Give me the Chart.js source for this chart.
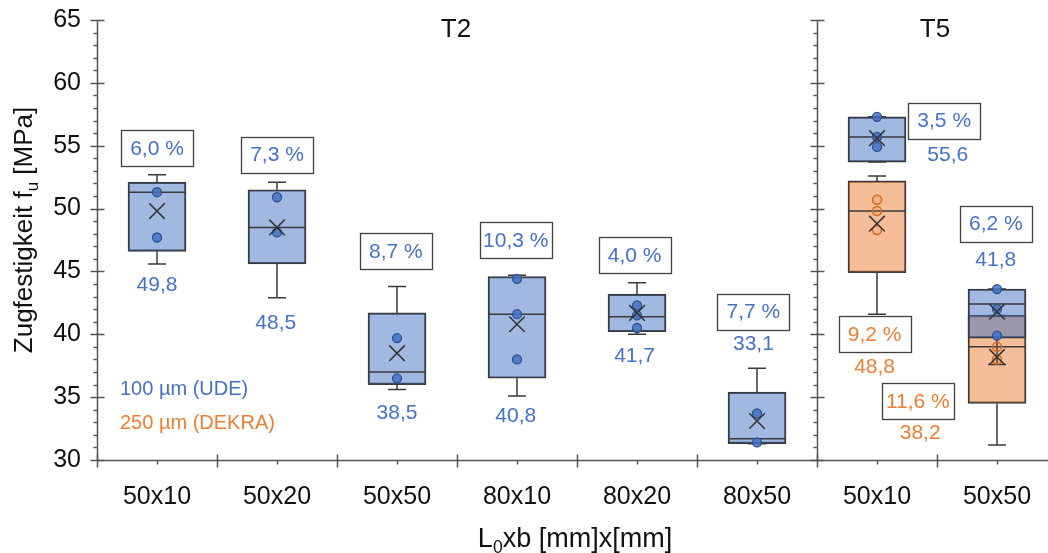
<!DOCTYPE html>
<html>
<head>
<meta charset="utf-8">
<script src="https://cdn.jsdelivr.net/npm/chart.js@4"></script>
<style>
  html, body { margin: 0; padding: 0; background: #fff; }
  #wrap { width: 1048px; height: 553px; }
</style>
</head>
<body>
<div id="wrap"><canvas id="chart" width="1048" height="553"></canvas></div>
<script>
// ---- data ----
const categories = ['50x10', '50x20', '50x50', '80x10', '80x20', '80x50', '50x10', '50x50'];

// 100 µm (UDE), all 8 geometries
const udeMin    = [45.6, 42.9, 35.6, 35.1, 40.0, 31.3, 53.7, 37.6];
const udeQ1     = [46.6, 45.6, 36.0, 36.5, 40.2, 31.3, 53.7, 39.7];
const udeMedian = [51.3, 48.5, 37.0, 41.6, 41.4, 31.7, 55.7, 42.4];
const udeQ3     = [52.1, 51.5, 41.7, 44.6, 43.2, 35.4, 57.3, 43.6];
const udeMax    = [52.7, 52.1, 43.8, 44.7, 44.1, 37.3, 57.3, 43.6];
const udeMean   = [49.8, 48.5, 38.5, 40.8, 41.7, 33.1, 55.6, 41.8];
const udeCv     = [6.0, 7.3, 8.7, 10.3, 4.0, 7.7, 3.5, 6.2];
const udePoints = [
  [51.3, 47.7], [50.9, 48.1], [39.7, 36.5], [44.4, 41.6, 38.0],
  [42.3, 41.5, 40.5], [33.7, 31.4], [57.3, 55.7, 54.9], [43.6, 42.0, 39.9]
];

// 250 µm (DEKRA), only T5
const dekraCat    = [6, 7];
const dekraMin    = [41.6, 31.2];
const dekraQ1     = [44.9, 34.5];
const dekraMedian = [49.8, 39.0];
const dekraQ3     = [52.2, 41.5];
const dekraMax    = [52.6, 41.5];
const dekraMean   = [48.8, 38.2];
const dekraCv     = [9.2, 11.6];
const dekraPoints = [[50.7, 49.8, 48.3], [39.0, 38.0]];

const yTicks = [30, 35, 40, 45, 50, 55, 60, 65];

// label placement (axis units)
const udeLabelPos = [
  { cx: 0.00, cy: 54.8, mx: 0.00, my: 44.0 },
  { cx: 1.00, cy: 54.3, mx: 0.99, my: 41.0 },
  { cx: 1.99, cy: 46.6, mx: 2.00, my: 33.8 },
  { cx: 2.99, cy: 47.5, mx: 2.99, my: 33.6 },
  { cx: 3.98, cy: 46.3, mx: 3.98, my: 38.3 },
  { cx: 4.97, cy: 41.8, mx: 4.97, my: 39.3 },
  { cx: 6.56, cy: 57.0, mx: 6.59, my: 54.3 },
  { cx: 6.99, cy: 48.8, mx: 6.99, my: 46.0 }
];
const dekraLabelPos = [
  { cx: 5.98, cy: 40.0, mx: 5.98, my: 37.5 },
  { cx: 6.34, cy: 34.7, mx: 6.36, my: 32.2 }
];

const X_MIN = -0.5;
const X_MAX = 7.425;

const BLUE = '#4472c4';
const ORANGE = '#ed7d31';
const FONT = "'Liberation Sans', Arial, sans-serif";

function fmt(v) {
  return v.toFixed(1).replace('.', ',');
}

// ---- datasets ----
const udeStats = categories.map((c, i) => ({
  x: i, min: udeMin[i], q1: udeQ1[i], med: udeMedian[i], q3: udeQ3[i], max: udeMax[i]
}));
const dekraStats = dekraCat.map((c, i) => ({
  x: c, min: dekraMin[i], q1: dekraQ1[i], med: dekraMedian[i], q3: dekraQ3[i], max: dekraMax[i]
}));

const udePointData = [];
udePoints.forEach((list, i) => list.forEach(v => udePointData.push({ x: i, y: v })));
const dekraPointData = [];
dekraPoints.forEach((list, i) => list.forEach(v => dekraPointData.push({ x: dekraCat[i], y: v })));

// whiskers and medians, drawn right after each box dataset
const boxExtras = {
  id: 'boxExtras',
  afterDatasetDraw(chart, args) {
    const ds = chart.data.datasets[args.index];
    if (!ds.stats) return;
    const xs = chart.scales.x, ys = chart.scales.y, ctx = chart.ctx;
    const meta = chart.getDatasetMeta(args.index);
    ctx.save();
    ctx.strokeStyle = '#3a3a3a';
    ctx.lineWidth = 1.5;
    ds.stats.forEach((s, i) => {
      const px = xs.getPixelForValue(s.x);
      const half = meta.data[i].width / 2;
      const cap = 9;
      ctx.beginPath();
      // upper whisker
      ctx.moveTo(px, ys.getPixelForValue(s.q3));
      ctx.lineTo(px, ys.getPixelForValue(s.max));
      ctx.moveTo(px - cap, ys.getPixelForValue(s.max));
      ctx.lineTo(px + cap, ys.getPixelForValue(s.max));
      // lower whisker
      ctx.moveTo(px, ys.getPixelForValue(s.q1));
      ctx.lineTo(px, ys.getPixelForValue(s.min));
      ctx.moveTo(px - cap, ys.getPixelForValue(s.min));
      ctx.lineTo(px + cap, ys.getPixelForValue(s.min));
      // median
      ctx.moveTo(px - half, ys.getPixelForValue(s.med));
      ctx.lineTo(px + half, ys.getPixelForValue(s.med));
      ctx.stroke();
    });
    ctx.restore();
  }
};

function drawParts(ctx, parts, x, y, size) {
  // parts: [text, isSub]
  let total = 0;
  parts.forEach(p => {
    ctx.font = (p[1] ? size * 0.65 : size) + 'px ' + FONT;
    total += ctx.measureText(p[0]).width;
  });
  let cx = x - total / 2;
  parts.forEach(p => {
    ctx.font = (p[1] ? size * 0.65 : size) + 'px ' + FONT;
    ctx.fillText(p[0], cx, p[1] ? y + size * 0.22 : y);
    cx += ctx.measureText(p[0]).width;
  });
}

// axes, frame ticks, labels, titles
const decorations = {
  id: 'decorations',
  afterDraw(chart) {
    const ctx = chart.ctx, xs = chart.scales.x, ys = chart.scales.y;
    const area = chart.chartArea;
    ctx.save();
    ctx.strokeStyle = '#555';
    ctx.lineWidth = 1.5;

    // vertical axes: left one and the T2/T5 divider
    [-0.5, 5.5].forEach(v => {
      const ax = Math.round(xs.getPixelForValue(v)) + 0.5;
      ctx.beginPath();
      ctx.moveTo(ax, area.top);
      ctx.lineTo(ax, area.bottom);
      for (let t = 30; t <= 65; t++) {
        const py = Math.round(ys.getPixelForValue(t)) + 0.5;
        if (t % 5 === 0) {
          ctx.moveTo(ax - 7, py);
          ctx.lineTo(ax + 7, py);
        } else {
          ctx.moveTo(ax - 4, py);
          ctx.lineTo(ax, py);
        }
      }
      ctx.stroke();
    });

    // x axis
    const by = Math.round(area.bottom) + 0.5;
    ctx.beginPath();
    ctx.moveTo(area.left, by);
    ctx.lineTo(chart.width, by);
    for (let v = -0.5; v < 8; v += 1) {
      const px = Math.round(xs.getPixelForValue(v)) + 0.5;
      ctx.moveTo(px, by - 6);
      ctx.lineTo(px, by + 7);
    }
    categories.forEach((c, i) => {
      const px = Math.round(xs.getPixelForValue(i)) + 0.5;
      ctx.moveTo(px, by);
      ctx.lineTo(px, by + 4);
    });
    ctx.stroke();

    // percentage boxes and mean labels
    ctx.textAlign = 'center';
    ctx.textBaseline = 'middle';
    const putLabels = (cv, means, pos, color) => {
      cv.forEach((c, i) => {
        const p = pos[i];
        const cx = xs.getPixelForValue(p.cx), cy = ys.getPixelForValue(p.cy);
        ctx.fillStyle = '#fff';
        ctx.fillRect(cx - 36, cy - 18, 72, 36);
        ctx.strokeStyle = '#404040';
        ctx.lineWidth = 1.3;
        ctx.strokeRect(Math.round(cx - 36) + 0.5, Math.round(cy - 18) + 0.5, 72, 36);
        ctx.fillStyle = color;
        ctx.font = '21px ' + FONT;
        ctx.fillText(fmt(c) + ' %', cx, cy + 1);
        ctx.fillText(fmt(means[i]), xs.getPixelForValue(p.mx), ys.getPixelForValue(p.my) + 1);
      });
    };
    putLabels(udeCv, udeMean, udeLabelPos, BLUE);
    putLabels(dekraCv, dekraMean, dekraLabelPos, ORANGE);

    // legend text
    ctx.textAlign = 'left';
    ctx.font = '20px ' + FONT;
    ctx.fillStyle = BLUE;
    ctx.fillText('100 µm (UDE)', 120, 389);
    ctx.fillStyle = ORANGE;
    ctx.fillText('250 µm (DEKRA)', 120, 423);

    // group titles
    ctx.textAlign = 'center';
    ctx.textBaseline = 'alphabetic';
    ctx.fillStyle = '#111';
    ctx.font = '26px ' + FONT;
    ctx.fillText('T2', 456, 37);
    ctx.fillText('T5', 935, 37);

    // axis titles
    ctx.textAlign = 'left';
    drawParts(ctx, [['L', false], ['0', true], ['xb [mm]x[mm]', false]], 575, 547, 27);
    ctx.translate(32, 230);
    ctx.rotate(-Math.PI / 2);
    drawParts(ctx, [['Zugfestigkeit f', false], ['u', true], [' [MPa]', false]], 0, 0, 26);
    ctx.restore();
  }
};

new Chart(document.getElementById('chart'), {
  type: 'bar',
  data: {
    datasets: [
      {
        type: 'scatter', label: 'UDE Mittelwert', order: 0,
        data: udeMean.map((v, i) => ({ x: i, y: v })),
        pointStyle: 'crossRot', pointRadius: 11, borderColor: '#333', borderWidth: 1.5
      },
      {
        type: 'scatter', label: 'DEKRA Mittelwert', order: 1,
        data: dekraMean.map((v, i) => ({ x: dekraCat[i], y: v })),
        pointStyle: 'crossRot', pointRadius: 11, borderColor: '#333', borderWidth: 1.5
      },
      {
        type: 'scatter', label: 'UDE Werte', order: 2,
        data: udePointData,
        pointStyle: 'circle', pointRadius: 4.5,
        backgroundColor: 'rgba(68,114,196,0.85)', borderColor: '#2f528f', borderWidth: 1.3
      },
      {
        type: 'scatter', label: 'DEKRA Werte', order: 3,
        data: dekraPointData,
        pointStyle: 'circle', pointRadius: 4.5,
        backgroundColor: 'rgba(237,125,49,0.15)', borderColor: '#d86a1e', borderWidth: 1.5
      },
      {
        label: '100 µm (UDE)', order: 4, stats: udeStats,
        data: udeStats.map(s => ({ x: s.x, y: [s.q1, s.q3] })),
        backgroundColor: 'rgba(68,114,196,0.5)', borderColor: '#3a3a3a', borderWidth: 1.5,
        borderSkipped: false, barThickness: 58, grouped: false
      },
      {
        label: '250 µm (DEKRA)', order: 5, stats: dekraStats,
        data: dekraStats.map(s => ({ x: s.x, y: [s.q1, s.q3] })),
        backgroundColor: 'rgba(237,125,49,0.5)', borderColor: '#3a3a3a', borderWidth: 1.5,
        borderSkipped: false, barThickness: 58, grouped: false
      }
    ]
  },
  options: {
    responsive: false,
    animation: false,
    layout: { autoPadding: false, padding: { top: 20, right: 0, left: 0, bottom: 0 } },
    plugins: { legend: { display: false }, tooltip: { enabled: false } },
    scales: {
      x: {
        type: 'linear',
        offset: false,
        min: X_MIN,
        max: X_MAX,
        grid: { display: false, drawTicks: false },
        border: { display: false },
        afterBuildTicks(scale) {
          scale.ticks = categories.map((c, i) => ({ value: i }));
          scale.min = X_MIN;
          scale.max = X_MAX;
        },
        afterFit(scale) {
          scale.height = 93;
          scale.paddingLeft = 0;
          scale.paddingRight = 0;
        },
        ticks: {
          autoSkip: false,
          maxRotation: 0,
          padding: 22,
          color: '#111',
          font: { family: FONT, size: 25 },
          callback: v => categories[v]
        }
      },
      y: {
        min: 30,
        max: 65,
        grid: { display: false, drawTicks: false },
        border: { display: false },
        afterBuildTicks(scale) {
          scale.ticks = yTicks.map(v => ({ value: v }));
        },
        afterFit(scale) {
          scale.width = 97;
          scale.paddingTop = 0;
          scale.paddingBottom = 0;
        },
        ticks: {
          padding: 16,
          color: '#111',
          font: { family: FONT, size: 25 }
        }
      }
    }
  },
  plugins: [boxExtras, decorations]
});
</script>
</body>
</html>
